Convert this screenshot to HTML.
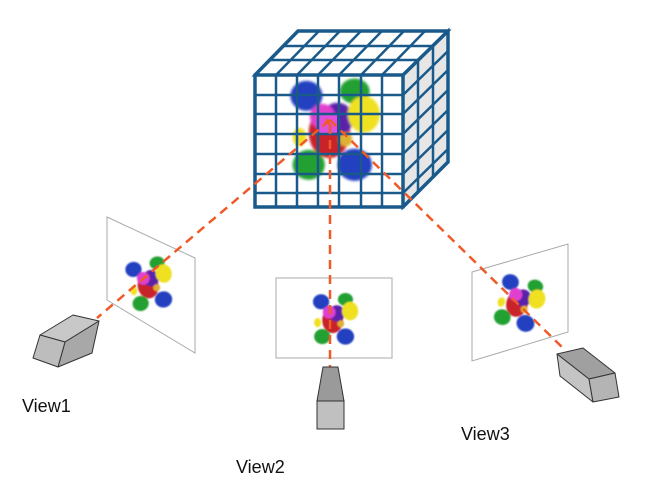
<!DOCTYPE html>
<html><head><meta charset="utf-8"><style>
html,body{margin:0;padding:0;background:#fff;}
svg{display:block;}
text{font-family:"Liberation Sans",sans-serif;font-size:18px;fill:#111;}
</style></head><body>
<svg width="661" height="490" viewBox="0 0 661 490" xmlns="http://www.w3.org/2000/svg">
<defs>
<filter id="bl" x="-20%" y="-20%" width="140%" height="140%"><feGaussianBlur stdDeviation="1.2"/></filter>
<g id="mol" filter="url(#bl)">
  <ellipse cx="-4" cy="4" rx="18" ry="22" fill="#c8202a"/>
  <ellipse cx="3" cy="-8" rx="14" ry="14" fill="#5a20a8"/>
  <ellipse cx="-24" cy="-28" rx="14" ry="13" fill="#2040c0"/>
  <ellipse cx="18" cy="-32" rx="13" ry="11" fill="#20a030"/>
  <ellipse cx="26" cy="-12" rx="14" ry="16" fill="#f0e020"/>
  <ellipse cx="-30" cy="8" rx="6" ry="8" fill="#f0e020"/>
  <ellipse cx="-22" cy="32" rx="14" ry="13" fill="#20a030"/>
  <ellipse cx="18" cy="32" rx="15" ry="14" fill="#2040c0"/>
  <ellipse cx="10" cy="10" rx="6" ry="6" fill="#e0b030"/>
  <ellipse cx="-10" cy="-10" rx="11" ry="11" fill="#e040d0"/>
</g>
</defs>

<!-- cube -->
<g stroke="#1a5a8a" stroke-width="3" fill="#fff">
  <polygon points="255,75 298,31 448,31 403,75"/>
  <polygon points="403,75 448,31 448,162 403,207" fill="#e6e6e6"/>
  <rect x="255" y="75" width="148" height="132"/>
</g>
<use href="#mol" transform="translate(334,128) scale(1.15)"/>
<rect x="317" y="113" width="20" height="20" fill="#e050e0"/>
<g stroke="#1a5a8a" stroke-width="2.5" fill="none">
  <path d="M276,75V207M297,75V207M318,75V207M339,75V207M361,75V207M382,75V207"/>
  <path d="M255,95H403M255,114H403M255,134H403M255,154H403M255,174H403M255,193H403"/>
  <path d="M269,60H418M284,46H433"/>
  <path d="M276,75L319,31M297,75L340,31M318,75L361,31M339,75L382,31M361,75L404,31M382,75L425,31"/>
  <path d="M418,60V192M433,46V177"/>
  <path d="M403,95L448,51M403,114L448,70M403,134L448,90M403,154L448,110M403,174L448,130M403,193L448,149"/>
</g>
<g stroke="#1a5a8a" stroke-width="3.5" fill="none">
  <polygon points="255,75 298,31 448,31 448,162 403,207 255,207"/>
  <path d="M255,75H403V207M403,75L448,31"/>
</g>

<!-- planes -->
<polygon points="107,217 195,258 195,353 107,300" fill="#fff" stroke="#aaa" stroke-width="1"/>
<use href="#mol" transform="translate(150,283) scale(0.58) rotate(-10)"/>
<rect x="276" y="278" width="116" height="80" fill="#fff" stroke="#aaa" stroke-width="1"/>
<use href="#mol" transform="translate(335,318) scale(0.58)"/>
<polygon points="472,272 568,244 568,332 472,361" fill="#fff" stroke="#aaa" stroke-width="1"/>
<use href="#mol" transform="translate(520,302) scale(0.6) rotate(15)"/>

<!-- dashed rays -->
<g stroke="#f05a28" stroke-width="2.5" stroke-dasharray="9,6" fill="none">
  <path d="M330,120L97,318"/>
  <path d="M330,125V367"/>
  <path d="M330,120L565,350"/>
</g>
<path d="M323,127L327,120L331,127" stroke="#f05a28" stroke-width="2" fill="none"/>

<!-- camera 1 -->
<g stroke="#333" stroke-width="1" stroke-linejoin="round">
  <polygon points="40,335 73,315 99,321 65,342" fill="#c8c8c8"/>
  <polygon points="65,342 99,321 92,353 58,367" fill="#a8a8a8"/>
  <polygon points="40,335 65,342 58,367 33,358" fill="#bdbdbd"/>
</g>
<!-- camera 2 -->
<g stroke="#333" stroke-width="1">
  <polygon points="323,367 338,367 344,401 317,401" fill="#9a9a9a"/>
  <rect x="317" y="401" width="27" height="28" fill="#c0c0c0"/>
</g>
<!-- camera 3 -->
<g stroke="#333" stroke-width="1" stroke-linejoin="round">
  <polygon points="557,354 583,348 615,373 589,379" fill="#a0a0a0"/>
  <polygon points="557,354 589,379 593,402 560,376" fill="#c4c4c4"/>
  <polygon points="589,379 615,373 619,397 593,402" fill="#b4b4b4"/>
</g>

<text x="22" y="412">View1</text>
<text x="236" y="473">View2</text>
<text x="461" y="440">View3</text>
</svg>
</body></html>
